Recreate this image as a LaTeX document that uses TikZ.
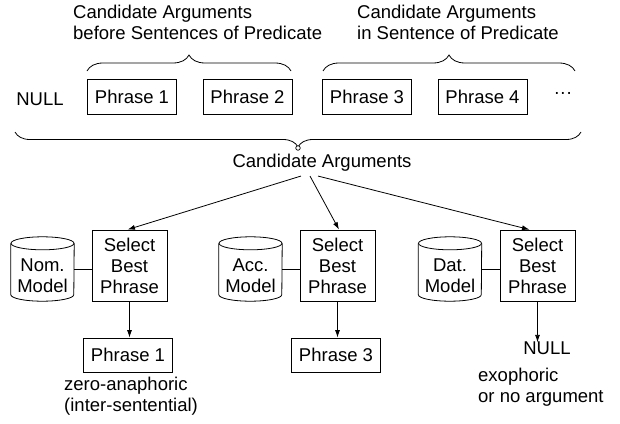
\documentclass[tikz,border=0pt]{standalone}
\usepackage{fontspec}
\setmainfont{Liberation Sans}
\usetikzlibrary{arrows.meta,decorations.pathreplacing,calc}
\begin{document}
\begin{tikzpicture}[x=1pt,y=-1pt,
  every node/.style={font=\fontsize{18.5}{21}\selectfont, inner sep=0pt},
  line/.style={line width=0.8pt},
  arr/.style={line width=0.8pt,-{Latex[length=7.5pt,width=5pt]}},
  phrasebox/.style={draw,line width=0.8pt,minimum width=89pt,minimum height=35pt},
  selbox/.style={draw,line width=0.8pt,minimum width=75pt,minimum height=71pt,align=center},
  cylbody/.style={minimum width=63pt,minimum height=64pt},
  brc/.style={line width=0.8pt,decorate,decoration={brace,amplitude=16pt}},
]
\useasboundingbox (0,0) rectangle (620,423);
% titles
\node[anchor=west,align=left] (t1) at (73,22) {Candidate Arguments\\before Sentences of Predicate};
\node[anchor=west,align=left] (t2) at (357,22) {Candidate Arguments\\in Sentence of Predicate};
% braces
\coordinate (b1l) at (87,71); \coordinate (b1r) at (291,71);
\coordinate (b2l) at (323,71); \coordinate (b2r) at (575,71);
\draw[brc] (b1l) -- (b1r);
\draw[brc] (b2l) -- (b2r);
% phrases
\node (null1) at (40,99) {NULL};
\node[phrasebox] (p1) at (132,96.5) {Phrase 1};
\node[phrasebox] (p2) at (247.5,96.5) {Phrase 2};
\node[phrasebox] (p3) at (367,96.5) {Phrase 3};
\node[phrasebox] (p4) at (482.5,96.5) {Phrase 4};
\node (dots) at (563,95) {···};
% big brace
\coordinate (bbr) at (581,132); \coordinate (bbl) at (15,132);
\draw[brc,decoration={amplitude=15pt}] (bbr) -- (bbl);
\node[draw,circle,fill=white,line width=0.7pt,minimum size=4.5pt] (tip) at (298,148) {};
\node[anchor=base] (ca) at (322,167) {Candidate Arguments};
% select boxes
\node[selbox] (sA) at (129.5,265.5) {Select\\Best\\Phrase};
\node[selbox] (sB) at (337.5,265.5) {Select\\Best\\Phrase};
\node[selbox] (sC) at (537.5,265.5) {Select\\Best\\Phrase};
% cylinders
\node[cylbody] (nomc) at (42.5,269) {};
\node[cylbody] (accc) at (250.5,269) {};
\node[cylbody] (datc) at (450,269) {};
\node[align=center] (nom) at (42.5,276) {Nom.\\Model};
\node[align=center] (acc) at (250.5,276) {Acc.\\Model};
\node[align=center] (dat) at (450,276) {Dat.\\Model};
\foreach \c in {nomc,accc,datc}{
  \draw[line] ([yshift=-6.5pt]\c.north) ellipse [x radius=31.5pt, y radius=6.5pt];
  \draw[line] ([yshift=-6.5pt]\c.north west) -- ([yshift=6.5pt]\c.south west)
     arc[start angle=180, end angle=360, x radius=31.5pt, y radius=6.5pt]
     -- ([yshift=-6.5pt]\c.north east);
}
\draw[line] (nomc.east) -- (nomc.east -| sA.west);
\draw[line] (accc.east) -- (accc.east -| sB.west);
\draw[line] (datc.east) -- (datc.east -| sC.west);
% arrows from candidate arguments
\coordinate (o1) at ([xshift=-21pt,yshift=-5pt]ca.south);
\coordinate (o2) at ([xshift=-12pt,yshift=-5pt]ca.south);
\coordinate (o3) at ([xshift=-4pt,yshift=-5pt]ca.south);
\draw[arr] (o1) -- ([xshift=-2pt]sA.north);
\draw[arr] (o2) -- ([xshift=1.5pt]sB.north);
\draw[arr] (o3) -- ([xshift=-8pt]sC.north);
% results
\node[phrasebox,minimum height=34pt] (r1) at (128,355) {Phrase 1};
\node[phrasebox,minimum height=34pt] (r3) at (336,355) {Phrase 3};
\node (null2) at (547,348) {NULL};
\draw[arr] (sA.south) -- (sA.south |- r1.north);
\draw[arr] (sB.south) -- (sB.south |- r3.north);
\draw[arr] (sC.south) -- ([yshift=-1pt]sC.south |- null2.north);
\node[anchor=west,align=left] (z) at (64,396) {zero-anaphoric\\(inter-sentential)};
\node[anchor=west,align=left] (e) at (478,387) {exophoric\\or no argument};
\end{tikzpicture}
\end{document}
